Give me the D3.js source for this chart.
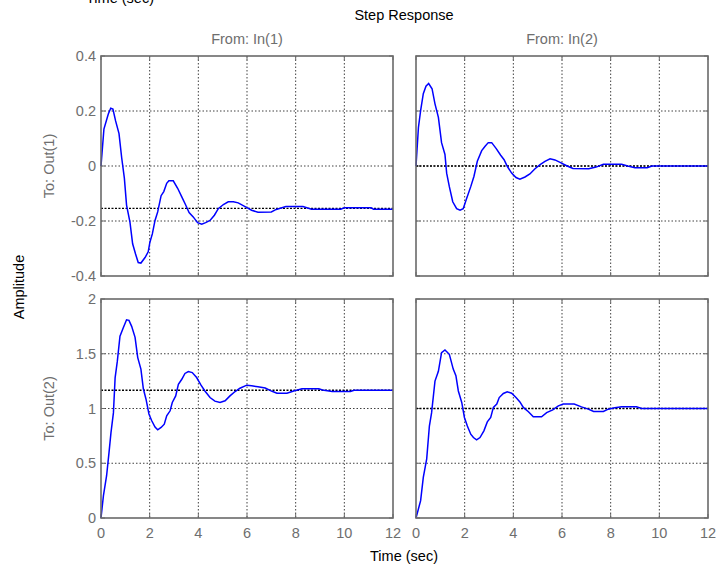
<!DOCTYPE html>
<html lang="en">
<head>
    <meta charset="UTF-8">
    <title>Step Response</title>
    <script src="https://d3js.org/d3.v7.min.js"></script>
    <style>
        body { margin: 0; background: #fff; }
        svg text { font-family: "Liberation Sans", Arial, sans-serif; }
        .frame { fill: none; stroke: #6a6a6a; stroke-width: 1.6px; }
        .grid { stroke: #404040; stroke-width: 1px; stroke-dasharray: 1.5,2; }
        .steady { stroke: #000; stroke-width: 1.4px; stroke-dasharray: 2,1.5; }
        .resp { fill: none; stroke: #0000ff; stroke-width: 1.5px; }
        .tick-label { fill: #6e6e6e; font-size: 14.5px; }
        .gray-label { fill: #6e6e6e; font-size: 14.5px; }
        .black-label { fill: #000; font-size: 14.5px; }
    </style>
</head>
<body>
<svg id="chart" width="718" height="569"></svg>
<script>
    // time ticks and amplitude ticks
    var xTicks = [0, 2, 4, 6, 8, 10, 12];
    var yTicksTop = [-0.4, -0.2, 0, 0.2, 0.4];
    var yTicksBottom = [0, 0.5, 1, 1.5, 2];
    var inputs = ["From: In(1)", "From: In(2)"];
    var outputs = ["To: Out(1)", "To: Out(2)"];
    var steadyStates = [[-0.154, 0], [1.167, 1]];

    // Out(1) <- In(1)
    var t11 = [0, 0.12, 0.30, 0.40, 0.49, 0.60, 0.74, 0.85, 0.96, 1.05, 1.19, 1.30, 1.42, 1.53, 1.64, 1.81, 1.94, 2.01, 2.11, 2.22, 2.33, 2.47, 2.58, 2.70, 2.79, 2.97, 3.15, 3.32, 3.48, 3.62, 3.79, 3.97, 4.14, 4.30, 4.48, 4.66, 4.82, 5.03, 5.23, 5.44, 5.64, 5.92, 6.19, 6.45, 7.0, 7.2, 7.6, 8.3, 8.65, 9.85, 10.0, 11.1, 11.2, 12];
    var y11 = [0, 0.134, 0.189, 0.21, 0.207, 0.164, 0.118, 0.03, -0.044, -0.142, -0.204, -0.283, -0.32, -0.351, -0.353, -0.333, -0.312, -0.277, -0.247, -0.198, -0.167, -0.108, -0.093, -0.063, -0.054, -0.054, -0.081, -0.112, -0.142, -0.169, -0.185, -0.206, -0.212, -0.206, -0.198, -0.179, -0.155, -0.14, -0.13, -0.13, -0.134, -0.148, -0.161, -0.168, -0.167, -0.158, -0.147, -0.147, -0.157, -0.157, -0.152, -0.152, -0.157, -0.157];

    // Out(1) <- In(2)
    var t12 = [0, 0.10, 0.19, 0.30, 0.41, 0.52, 0.66, 0.78, 0.92, 1.05, 1.19, 1.26, 1.37, 1.51, 1.67, 1.81, 1.94, 2.08, 2.25, 2.38, 2.52, 2.70, 2.84, 2.97, 3.11, 3.29, 3.48, 3.62, 3.75, 3.93, 4.11, 4.27, 4.48, 4.68, 4.89, 5.10, 5.30, 5.51, 5.71, 5.92, 6.19, 6.45, 7.1, 7.4, 7.7, 8.45, 8.7, 9.0, 9.5, 9.7, 12];
    var y12 = [0, 0.14, 0.201, 0.263, 0.29, 0.30, 0.281, 0.226, 0.177, 0.085, 0.042, -0.026, -0.075, -0.13, -0.155, -0.161, -0.155, -0.118, -0.075, -0.038, 0.017, 0.056, 0.072, 0.085, 0.085, 0.064, 0.039, 0.023, -0.001, -0.026, -0.042, -0.048, -0.04, -0.029, -0.01, 0.005, 0.017, 0.026, 0.022, 0.013, 0.001, -0.009, -0.01, -0.004, 0.006, 0.006, 0, -0.006, -0.006, 0, 0];

    // Out(2) <- In(1)
    var t21 = [0, 0.10, 0.23, 0.33, 0.41, 0.51, 0.58, 0.67, 0.78, 0.92, 1.05, 1.15, 1.26, 1.40, 1.51, 1.64, 1.74, 1.85, 1.97, 2.08, 2.22, 2.33, 2.47, 2.60, 2.70, 2.84, 2.93, 3.07, 3.18, 3.32, 3.45, 3.59, 3.75, 3.93, 4.11, 4.27, 4.48, 4.68, 4.89, 5.10, 5.30, 5.51, 5.71, 5.99, 6.19, 6.45, 6.75, 7.03, 7.23, 7.64, 7.92, 8.26, 8.95, 9.1, 9.5, 10.25, 10.4, 12];
    var y21 = [0, 0.204, 0.386, 0.60, 0.78, 0.96, 1.28, 1.43, 1.66, 1.74, 1.81, 1.805, 1.75, 1.65, 1.465, 1.36, 1.18, 1.085, 0.95, 0.89, 0.83, 0.805, 0.827, 0.857, 0.933, 0.979, 1.055, 1.115, 1.22, 1.267, 1.32, 1.337, 1.328, 1.283, 1.213, 1.16, 1.10, 1.067, 1.055, 1.07, 1.115, 1.155, 1.185, 1.213, 1.207, 1.198, 1.187, 1.157, 1.14, 1.14, 1.16, 1.181, 1.181, 1.169, 1.156, 1.156, 1.167, 1.167];

    // Out(2) <- In(2)
    var t22 = [0, 0.19, 0.30, 0.44, 0.55, 0.64, 0.78, 0.92, 1.05, 1.19, 1.37, 1.53, 1.64, 1.74, 1.88, 1.99, 2.11, 2.25, 2.36, 2.49, 2.63, 2.79, 2.93, 3.07, 3.18, 3.32, 3.42, 3.59, 3.75, 3.93, 4.11, 4.27, 4.41, 4.62, 4.82, 5.16, 5.37, 5.62, 5.85, 6.05, 6.5, 6.8, 7.08, 7.3, 7.7, 7.9, 8.17, 8.45, 9.06, 9.27, 12];
    var y22 = [0, 0.158, 0.37, 0.54, 0.84, 0.96, 1.25, 1.34, 1.51, 1.535, 1.495, 1.36, 1.30, 1.16, 1.055, 0.918, 0.84, 0.765, 0.735, 0.714, 0.735, 0.796, 0.878, 0.918, 1.01, 1.04, 1.10, 1.137, 1.152, 1.14, 1.10, 1.06, 1.01, 0.97, 0.924, 0.924, 0.963, 0.988, 1.024, 1.04, 1.04, 1.015, 0.994, 0.973, 0.973, 0.994, 1.006, 1.015, 1.015, 1.0, 1.0];

    var times = [[t11, t12], [t21, t22]];
    var values = [[y11, y12], [y21, y22]];

    var colX = [[101, 393], [416, 708]];
    var rowY = [[56, 276], [299, 518]];
    var rowDomains = [[-0.4, 0.4], [0, 2]];
    var rowTicks = [yTicksTop, yTicksBottom];

    var svg = d3.select("#chart");

    for (var r = 0; r < 2; r++) {
        for (var c = 0; c < 2; c++) {
            var x = d3.scaleLinear().domain([0, 12]).range(colX[c]);
            var y = d3.scaleLinear().domain(rowDomains[r]).range([rowY[r][1], rowY[r][0]]);
            var g = svg.append("g");

            // grid
            g.selectAll(".gx").data(xTicks.slice(1, -1)).enter().append("line")
                .attr("class", "grid")
                .attr("x1", d => x(d)).attr("x2", d => x(d))
                .attr("y1", rowY[r][0]).attr("y2", rowY[r][1]);
            g.selectAll(".gy").data(rowTicks[r].slice(1, -1)).enter().append("line")
                .attr("class", "grid")
                .attr("x1", colX[c][0]).attr("x2", colX[c][1])
                .attr("y1", d => y(d)).attr("y2", d => y(d));

            // inner tick marks
            g.selectAll(".tx").data(xTicks).enter().append("path")
                .attr("stroke", "#6a6a6a").attr("stroke-width", 1)
                .attr("d", d => "M" + x(d) + "," + rowY[r][0] + "v4M" + x(d) + "," + rowY[r][1] + "v-4");
            g.selectAll(".ty").data(rowTicks[r]).enter().append("path")
                .attr("stroke", "#6a6a6a").attr("stroke-width", 1)
                .attr("d", d => "M" + colX[c][0] + "," + y(d) + "h4M" + colX[c][1] + "," + y(d) + "h-4");

            // steady state
            g.append("line")
                .attr("class", "steady")
                .attr("x1", colX[c][0]).attr("x2", colX[c][1])
                .attr("y1", y(steadyStates[r][c])).attr("y2", y(steadyStates[r][c]));

            // response
            var pts = d3.zip(times[r][c], values[r][c]);
            g.append("path")
                .datum(pts)
                .attr("class", "resp")
                .attr("d", d3.line().x(d => x(d[0])).y(d => y(d[1])));

            // frame
            g.append("rect")
                .attr("class", "frame")
                .attr("x", colX[c][0]).attr("y", rowY[r][0])
                .attr("width", colX[c][1] - colX[c][0])
                .attr("height", rowY[r][1] - rowY[r][0]);

            // y tick labels on left column
            if (c === 0) {
                g.selectAll(".yl").data(rowTicks[r]).enter().append("text")
                    .attr("class", "tick-label")
                    .attr("x", colX[c][0] - 5)
                    .attr("y", d => y(d) + 5)
                    .attr("text-anchor", "end")
                    .text(d => d);
            }
            // x tick labels on bottom row
            if (r === 1) {
                g.selectAll(".xl").data(xTicks).enter().append("text")
                    .attr("class", "tick-label")
                    .attr("x", d => x(d))
                    .attr("y", 538)
                    .attr("text-anchor", "middle")
                    .text(d => d);
            }
        }
    }

    // column titles
    inputs.forEach(function(d, i) {
        svg.append("text")
            .attr("class", "gray-label")
            .attr("x", (colX[i][0] + colX[i][1]) / 2)
            .attr("y", 44)
            .attr("text-anchor", "middle")
            .text(d);
    });

    // row labels
    outputs.forEach(function(d, i) {
        var cy = (rowY[i][0] + rowY[i][1]) / 2;
        svg.append("text")
            .attr("class", "gray-label")
            .attr("transform", "translate(54," + cy + ") rotate(-90)")
            .attr("text-anchor", "middle")
            .text(d);
    });

    svg.append("text")
        .attr("class", "black-label")
        .attr("x", 404)
        .attr("y", 20)
        .attr("text-anchor", "middle")
        .text("Step Response");

    svg.append("text")
        .attr("class", "black-label")
        .attr("x", 404)
        .attr("y", 561)
        .attr("text-anchor", "middle")
        .text("Time (sec)");

    svg.append("text")
        .attr("class", "black-label")
        .attr("transform", "translate(24,287) rotate(-90)")
        .attr("text-anchor", "middle")
        .text("Amplitude");

    // leftover label clipped at the top edge, as in the original figure
    svg.append("text")
        .attr("class", "black-label")
        .attr("x", 120)
        .attr("y", 3)
        .attr("text-anchor", "middle")
        .text("Time (sec)");
</script>
</body>
</html>
